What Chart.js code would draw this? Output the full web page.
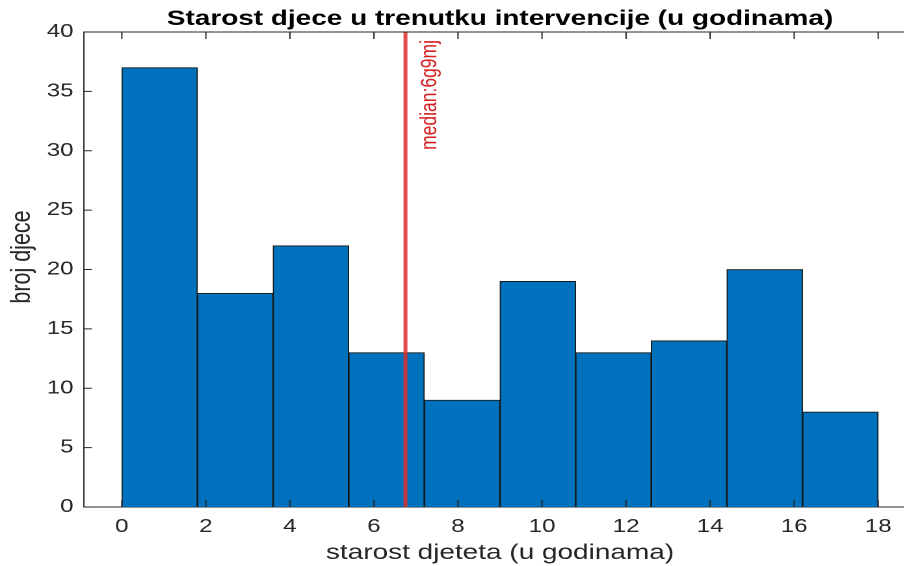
<!DOCTYPE html>
<html>
<head>
<meta charset="utf-8">
<script src="https://cdn.jsdelivr.net/npm/chart.js@4.4.1/dist/chart.umd.min.js"></script>
<style>
  html, body { margin: 0; padding: 0; background: #fff; overflow: hidden; }
  #wrap { width: 904px; height: 566px; overflow: hidden; }
</style>
</head>
<body>
<div id="wrap">
  <!-- drawn at 769 wide and stretched to 1000, the reference picture is stretched sideways -->
  <canvas id="histChart" width="769" height="566" style="width:1000px;height:566px"></canvas>
</div>
<script>
let binEdges = [0, 1.8, 3.6, 5.4, 7.2, 9, 10.8, 12.6, 14.4, 16.2, 18];
let counts = [37, 18, 22, 13, 9, 19, 13, 14, 20, 8];
let xTicks = [0, 2, 4, 6, 8, 10, 12, 14, 16, 18];
let yTicks = [0, 5, 10, 15, 20, 25, 30, 35, 40];
let medianAge = 6.75;
let medianText = "median:6g9mj";

let barPoints = counts.map((c, i) => ({ x: (binEdges[i] + binEdges[i + 1]) / 2, y: c }));
let medianPoints = [
    { x: medianAge, y: yTicks[0] },
    { x: medianAge, y: yTicks[yTicks.length - 1] }
];

let axisColor = "#262626";
let family = "'Liberation Sans', Arial, sans-serif";

// box top line, inward ticks, median text and y label
let extras = {
    id: "extras",
    afterDraw(chart) {
        let ctx = chart.ctx;
        let a = chart.chartArea;
        let x = chart.scales.x;
        let y = chart.scales.y;

        ctx.save();
        ctx.strokeStyle = axisColor;
        ctx.lineWidth = 1;
        ctx.beginPath();
        ctx.moveTo(a.left, a.top);
        ctx.lineTo(a.right, a.top);
        x.ticks.forEach(t => {
            let px = x.getPixelForValue(t.value);
            ctx.moveTo(px, a.bottom);
            ctx.lineTo(px, a.bottom - 7);
            ctx.moveTo(px, a.top);
            ctx.lineTo(px, a.top + 7);
        });
        y.ticks.forEach(t => {
            let py = y.getPixelForValue(t.value);
            ctx.moveTo(a.left, py);
            ctx.lineTo(a.left + 6, py);
            ctx.moveTo(a.right, py);
            ctx.lineTo(a.right - 6, py);
        });
        ctx.stroke();
        ctx.restore();

        ctx.save();
        ctx.fillStyle = "#d42020";
        ctx.font = "17.5px " + family;
        ctx.translate(x.getPixelForValue(medianAge) + 19, a.top + 8);
        ctx.rotate(-Math.PI / 2);
        ctx.textAlign = "right";
        ctx.textBaseline = "middle";
        ctx.fillText(medianText, 0, 0);
        ctx.restore();

        ctx.save();
        ctx.fillStyle = axisColor;
        ctx.font = "21.5px " + family;
        ctx.translate(17, 257);
        ctx.rotate(-Math.PI / 2);
        ctx.textAlign = "center";
        ctx.textBaseline = "middle";
        ctx.fillText("broj djece", 0, 0);
        ctx.restore();
    }
};

new Chart(document.getElementById("histChart"), {
    type: "bar",
    data: {
        datasets: [
            {
                type: "line",
                data: medianPoints,
                borderColor: "rgba(222,45,45,0.85)",
                borderWidth: 3,
                pointRadius: 0,
                order: 0
            },
            {
                type: "bar",
                data: barPoints,
                backgroundColor: "#0072BD",
                borderColor: "#1a1a1a",
                borderWidth: 1,
                barPercentage: 1,
                categoryPercentage: 1,
                order: 1
            }
        ]
    },
    options: {
        responsive: false,
        devicePixelRatio: 2,
        animation: false,
        layout: { padding: 0 },
        plugins: {
            legend: { display: false },
            tooltip: { enabled: false },
            title: {
                display: true,
                text: "Starost djece u trenutku intervencije (u godinama)",
                color: "#000",
                font: { family: family, size: 21.5, weight: "bold", lineHeight: 1.2 },
                padding: { top: 6.2, bottom: 0 }
            }
        },
        scales: {
            x: {
                type: "linear",
                min: -0.9,
                max: 18.9,
                offset: false,
                z: 1,
                afterBuildTicks: s => { s.ticks = xTicks.map(v => ({ value: v })); },
                afterFit: s => { s.height = 59; },
                grid: { display: false, drawTicks: false },
                border: { display: true, color: axisColor, width: 1 },
                ticks: { color: axisColor, font: { family: family, size: 18.5 }, padding: 9, maxRotation: 0, autoSkip: false },
                title: {
                    display: true,
                    text: "starost djeteta (u godinama)",
                    color: axisColor,
                    font: { family: family, size: 21.5, lineHeight: 1.2 },
                    padding: 0
                }
            },
            y: {
                type: "linear",
                min: 0,
                max: 40,
                z: 1,
                afterBuildTicks: s => { s.ticks = yTicks.map(v => ({ value: v })); },
                afterFit: s => { s.width = 64.6; },
                grid: { display: false, drawTicks: false },
                border: { display: true, color: axisColor, width: 1 },
                ticks: { color: axisColor, font: { family: family, size: 18.5 }, padding: 8 }
            },
            // empty right margin, off screen, keeps the title centred like the original
            yRight: {
                type: "linear",
                position: "right",
                min: 0,
                max: 40,
                afterFit: s => { s.width = 64.6; },
                grid: { display: false, drawTicks: false },
                border: { display: false },
                ticks: { display: false }
            }
        }
    },
    plugins: [extras]
});
</script>
</body>
</html>
